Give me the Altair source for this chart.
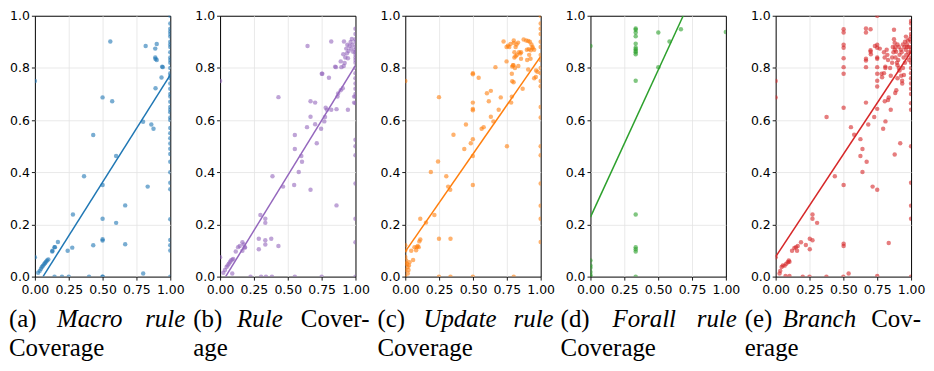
import altair as alt
import pandas as pd

colors = ["#1f77b4", "#9467bd", "#ff7f0e", "#2ca02c", "#d62728"]

# ---- panel (a) Macro rule coverage ----
a_x = [0, 0,
       0.024, 0.036, 0.045, 0.052, 0.06, 0.068, 0.075, 0.082, 0.09, 0.099,
       0.128, 0.13, 0.145, 0.148, 0.17,
       0.242, 0.276, 0.281, 0.363, 0.431, 0.431,
       0.5, 0.5, 0.5, 0.5, 0.5,
       0.557, 0.571, 0.6, 0.6, 0.667, 0.667,
       0.799, 0.8, 0.818, 0.833, 0.86, 0.876,
       0.889, 0.9, 0.889, 0.891, 0.9, 0.891,
       0.94, 0.944, 0.935,
       0.145, 0.2, 0.25, 0.4, 0.5, 0.5,
       1, 1, 1, 1, 1, 1, 1, 1, 1, 1, 1, 1, 1, 1, 1, 1, 1, 1, 1, 1,
       1, 1, 1, 1, 1, 1, 1, 1, 1, 1, 1, 1, 1, 1, 1, 1, 1, 1, 1, 1, 1, 1]
a_y = [0.75, 0.074,
       0.015, 0.022, 0.03, 0.037, 0.042, 0.047, 0.052, 0.057, 0.062, 0.066,
       0.096, 0.099, 0.113, 0.113, 0.133,
       0.099, 0.111, 0.238, 0.385, 0.543, 0.12,
       0.687, 0.351, 0.222, 0.143, 0.138,
       0.901, 0.672, 0.462, 0.206, 0.273, 0.124,
       0.594, 0.012, 0.884, 0.345, 0.583, 0.567,
       0.874, 0.892, 0.84, 0.834, 0.83, 0.722,
       0.805, 0.803, 0.763,
       0, 0, 0, 0, 0, 0,
       0, 0.1, 0.12, 0.14, 0.22, 0.335, 0.36, 0.4, 0.44, 0.47, 0.49, 0.51, 0.53, 0.55, 0.57, 0.6, 0.61, 0.63, 0.64, 0.65,
       0.67, 0.69, 0.7, 0.72, 0.74, 0.76, 0.77, 0.78, 0.8, 0.82, 0.83, 0.84, 0.86, 0.88, 0.89, 0.9, 0.92, 0.93, 0.94, 0.95, 0.97, 1.0]

# ---- panel (b) Rule coverage ----
b_x = [0, 0,
       0.024, 0.036, 0.048, 0.056, 0.065, 0.073, 0.08, 0.09, 0.097, 0.09,
       0.116, 0.133, 0.145, 0.165, 0.174, 0.184, 0.165, 0.182,
       0.286, 0.286, 0.298, 0.334, 0.334, 0.334, 0.334, 0.378, 0.387, 0.431, 0.431,
       0.465, 0.547, 0.552, 0.552, 0.581, 0.6, 0.605, 0.642, 0.646,
       0.668, 0.668, 0.668, 0.702, 0.702, 0.714, 0.746, 0.751, 0.755, 0.77, 0.775, 0.78, 0.789,
       0.804, 0.821, 0.821, 0.85, 0.855, 0.86, 0.867, 0.872, 0.891, 0.906, 0.86,
       0.891, 0.91, 0.915, 0.925, 0.932, 0.94, 0.944, 0.949, 0.956, 0.964, 0.969, 0.973,
       0.978, 0.983, 0.913, 0.896, 0.944, 0.937, 0.92, 0.99, 0.99,
       0.225, 0.303, 0.339, 0.383, 0.552, 0.75,
       1, 1, 1, 1, 1, 1, 1, 1, 1, 1, 1, 1, 1, 1, 1, 1, 1, 1, 1, 1, 1, 1, 1, 1, 1, 1]
b_y = [0.75, 0.074,
       0.015, 0.025, 0.037, 0.043, 0.049, 0.055, 0.062, 0.065, 0.068, 0.012,
       0.096, 0.113, 0.117, 0.132, 0.123, 0.113, 0.099, 0.111,
       0.145, 0.105, 0.236, 0.222, 0.206, 0.139, 0.123, 0.145, 0.385, 0.688, 0.117,
       0.345, 0.351, 0.489, 0.543, 0.401, 0.462, 0.44, 0.573, 0.884,
       0.672, 0.613, 0.333, 0.667, 0.584, 0.511, 0.567, 0.778, 0.778, 0.595, 0.612, 0.647, 0.64,
       0.762, 0.901, 0.64, 0.805, 0.803, 0.642, 0.69, 0.702, 0.714, 0.722, 0.273,
       0.825, 0.852, 0.901, 0.84, 0.874, 0.889, 0.837, 0.865, 0.884, 0.899, 0.874, 0.911,
       0.889, 0.862, 0.807, 0.803, 0.64, 0.856, 0.819, 0.69, 0.667,
       0, 0, 0, 0, 0, 0,
       0, 0.132, 0.222, 0.357, 0.465, 0.5, 0.525, 0.665, 0.69, 0.7, 0.72, 0.74, 0.76, 0.78, 0.8, 0.82, 0.83,
       0.84, 0.85, 0.86, 0.87, 0.88, 0.9, 0.91, 0.93, 0.95]

# ---- panel (c) Update rule coverage ----
c_x = [0, 0, 0, 0, 0, 0, 0,
       0.007, 0.012, 0.017, 0.019, 0.024, 0.027, 0.031,
       0.044, 0.058, 0.068, 0.08, 0.085, 0.092, 0.099, 0.104, 0.111,
       0.111, 0.153, 0.189, 0.215, 0.242, 0.249, 0.249, 0.303, 0.317, 0.332, 0.334, 0.356,
       0.436, 0.448, 0.484, 0.499, 0.499, 0.499, 0.499, 0.499, 0.499, 0.499, 0.499,
       0.542, 0.564, 0.579, 0.603, 0.617, 0.632, 0.632, 0.651, 0.666, 0.69, 0.705,
       0.726, 0.748, 0.751, 0.748, 0.758, 0.768, 0.777, 0.782, 0.787, 0.787, 0.79,
       0.79, 0.795, 0.801, 0.801, 0.806, 0.815, 0.825, 0.84, 0.85, 0.855,
       0.867, 0.874, 0.893, 0.908, 0.92, 0.932, 0.94, 0.898, 0.912, 0.927, 0.94, 0.952,
       0.9, 0.915, 0.925, 0.952, 0.964, 0.966, 0.976, 0.908, 0.806, 0.815, 0.822, 0.833,
       0.835, 0.799, 0.855, 0.8, 0.81,
       0.249, 0.334, 0.499, 0.801,
       1, 1, 1, 1, 1, 1, 1, 1, 1, 1, 1, 1, 1, 1, 1, 1, 1, 1, 1, 1]
c_y = [0.75, 0.12, 0.1, 0.075, 0.05, 0.025, 0.0,
       0.062, 0.049, 0.037, 0.012, 0.025, 0.043, 0.055,
       0.099, 0.064, 0.113, 0.101, 0.113, 0.117, 0.113, 0.135, 0.142,
       0.222, 0.207, 0.401, 0.236, 0.441, 0.688, 0.145, 0.385, 0.345, 0.333, 0.145, 0.544,
       0.489, 0.583, 0.511, 0.527, 0.667, 0.643, 0.638, 0.78, 0.776, 0.462, 0.351,
       0.762, 0.567, 0.573, 0.703, 0.672, 0.712, 0.613, 0.595, 0.803, 0.64, 0.687,
       0.901, 0.825, 0.5, 0.88, 0.885, 0.88, 0.892, 0.667, 0.69, 0.778, 0.749,
       0.805, 0.81, 0.905, 0.896, 0.84, 0.845, 0.85, 0.86, 0.855, 0.86,
       0.72, 0.909, 0.905, 0.903, 0.9, 0.89, 0.88, 0.87, 0.872, 0.868, 0.875, 0.87,
       0.83, 0.85, 0.835, 0.76, 0.765, 0.79, 0.785, 0.794, 0.86, 0.88, 0.89, 0.897,
       0.807, 0.81, 0.835, 0.745, 0.8,
       0, 0, 0, 0,
       0.133, 0.222, 0.272, 0.357, 0.465, 0.5, 0.61, 0.65, 0.73, 0.75, 0.78, 0.8, 0.83, 0.85, 0.88, 0.9, 0.93, 0.95, 0.97, 1.0]

# ---- panel (d) Forall rule coverage ----
d_x = [0, 0, 0, 0, 0, 0, 0,
       0.334, 0.334, 0.334, 0.334, 0.334, 0.334, 0.334, 0.334, 0.334, 0.334,
       0.334, 0.334, 0.334, 0.334, 0.334, 0.334,
       0.501, 0.501, 0.584, 0.668, 1.0]
d_y = [0.884, 0.062, 0.043, 0.034, 0.018, 0.006, 0.0,
       0.951, 0.946, 0.936, 0.921, 0.893, 0.877, 0.872, 0.865, 0.86, 0.852,
       0.751, 0.238, 0.113, 0.105, 0.096, 0.0,
       0.936, 0.803, 0.901, 0.948, 0.938]

# ---- panel (e) Branch coverage ----
e_x = [0, 0, 0,
       0.029, 0.034, 0.044, 0.053, 0.066, 0.078, 0.09, 0.097, 0.102, 0.073, 0.102,
       0.121, 0.138, 0.15, 0.163, 0.158, 0.187, 0.223, 0.252, 0.272, 0.252, 0.272, 0.272, 0.306,
       0.376, 0.437, 0.502, 0.502, 0.502, 0.502, 0.502, 0.502, 0.502, 0.502, 0.502, 0.502, 0.502,
       0.539, 0.556, 0.58, 0.626, 0.626, 0.641, 0.641,
       0.667, 0.667, 0.667, 0.667, 0.667, 0.667, 0.672, 0.684, 0.701, 0.701, 0.701, 0.703,
       0.716, 0.728, 0.733, 0.75, 0.75, 0.75, 0.75, 0.75, 0.75, 0.75, 0.75, 0.75, 0.75, 0.75, 0.75,
       0.769, 0.782, 0.786, 0.794, 0.8, 0.805, 0.81, 0.806, 0.811, 0.82, 0.825, 0.83, 0.835, 0.835,
       0.85, 0.874, 0.874, 0.879, 0.883, 0.89, 0.879, 0.883, 0.891, 0.895, 0.9, 0.905, 0.91,
       0.92, 0.927, 0.934, 0.947, 0.95, 0.955, 0.962, 0.97, 0.975, 0.982, 0.99,
       0.86, 0.865, 0.87, 0.88, 0.885, 0.9, 0.91, 0.915, 0.925, 0.93, 0.94, 0.945, 0.96, 0.965, 0.97,
       0.8, 0.81, 0.83, 0.845, 0.85, 0.86, 0.935, 0.955, 0.98, 0.985, 0.915, 0.9, 0.94,
       0.2, 0.25, 0.375, 0.5,
       1, 1, 1, 1, 1, 1, 1, 1, 1, 1, 1, 1, 1, 1, 1, 1, 1, 1, 1, 1, 1, 1, 1, 1]
e_y = [0.75, 0.687, 0.074,
       0.012, 0.022, 0.037, 0.043, 0.042, 0.049, 0.055, 0.062, 0.057, 0.002, 0.002,
       0.099, 0.11, 0.113, 0.117, 0.099, 0.132, 0.121, 0.145, 0.139, 0.105, 0.238, 0.222, 0.206,
       0.612, 0.385, 0.948, 0.936, 0.889, 0.877, 0.837, 0.803, 0.778, 0.647, 0.351, 0.126, 0.117,
       0.012, 0.573, 0.544, 0.527, 0.462, 0.489, 0.401,
       0.951, 0.936, 0.835, 0.828, 0.803, 0.667, 0.44, 0.583, 0.948, 0.868, 0.862, 0.852,
       0.345, 0.612, 0.884, 1.0, 0.889, 0.877, 0.84, 0.835, 0.803, 0.778, 0.751, 0.729, 0.643, 0.333, 0.002,
       0.874, 0.778, 0.764, 0.567, 0.86, 0.84, 0.805, 0.672, 0.595, 0.87, 0.85, 0.677, 0.687, 0.129,
       0.64, 0.946, 0.91, 0.896, 0.88, 0.862, 0.468, 0.704, 0.714, 0.82, 0.81, 0.83, 0.8,
       0.511, 0.77, 0.751, 0.773, 0.88, 0.9, 0.92, 0.89, 0.905, 0.88, 0.91,
       0.84, 0.88, 0.86, 0.87, 0.84, 0.89, 0.88, 0.85, 0.87, 0.86, 0.89, 0.84, 0.87, 0.85, 0.88,
       0.78, 0.8, 0.83, 0.8, 0.77, 0.82, 0.74, 0.82, 0.86, 0.83, 0.79, 0.76, 0.8,
       0, 0, 0, 0,
       0, 0.222, 0.272, 0.36, 0.5, 0.64, 0.665, 0.7, 0.72, 0.74, 0.76, 0.78, 0.8, 0.82, 0.84, 0.86, 0.87, 0.88, 0.9,
       0.92, 0.93, 0.95, 0.97, 0.98]

xs_all = [a_x, b_x, c_x, d_x, e_x]
ys_all = [a_y, b_y, c_y, d_y, e_y]

# regression line endpoints
reg_x = [[0.06, 1.0], [0.041, 1.0], [0.0, 1.0], [0.0, 0.685], [0.0, 1.0]]
reg_y = [[0.0, 0.773], [0.0, 0.81], [0.096, 0.844], [0.228, 1.0], [0.076, 0.862]]

cap_line1 = [["(a)", "Macro", "rule"], ["(b)", "Rule", "Cover-"],
             ["(c)", "Update", "rule"], ["(d)", "Forall", "rule"],
             ["(e)", "Branch", "Cov-"]]
cap_italic = [[False, True, True], [False, True, False], [False, True, True],
              [False, True, True], [False, True, False]]
cap_line2 = ["Coverage", "age", "Coverage", "Coverage", "erage"]

x_ticks = [0, 0.25, 0.5, 0.75, 1.0]
y_ticks = [0, 0.2, 0.4, 0.6, 0.8, 1.0]

# ---- layout (pixels) ----
W, H = 136, 262
cap_dx = [-26, -27, -28, -30, -31]
cap_w = 177
mid_c = [81, 67, 83, 84, 75]
cap_fs = 25
cap_font = "Liberation Serif"
line1_y = H + 51
line2_y = H + 80

grid_color = {"condition": {"test": "datum.value === 0 || datum.value === 1",
                            "value": "transparent"},
              "value": "#e3e3e3"}


def caption(word, xpos, ypos, align, italic):
    return alt.Chart(pd.DataFrame({"t": [word]})).mark_text(
        font=cap_font, fontSize=cap_fs,
        fontStyle="italic" if italic else "normal",
        align=align, baseline="alphabetic", color="black"
    ).encode(x=alt.value(xpos), y=alt.value(ypos), text="t:N")


def panel(i):
    df = pd.DataFrame({"x": xs_all[i], "y": ys_all[i]})
    xenc = alt.X("x:Q", scale=alt.Scale(domain=[0, 1], nice=False, zero=False),
                 axis=alt.Axis(values=x_ticks, format=".2f", title=None,
                               gridColor=grid_color, labelPadding=3,
                               labelFlush=False, labelOverlap=False))
    yenc = alt.Y("y:Q", scale=alt.Scale(domain=[0, 1], nice=False, zero=False),
                 axis=alt.Axis(values=y_ticks, format=".1f", title=None,
                               gridColor=grid_color, labelPadding=2,
                               labelFlush=False, labelOverlap=False))
    pts = alt.Chart(df).mark_circle(size=20, opacity=0.6, color=colors[i],
                                    clip=True).encode(x=xenc, y=yenc)
    ldf = pd.DataFrame({"x": reg_x[i], "y": reg_y[i]})
    ln = alt.Chart(ldf).mark_line(color=colors[i], strokeWidth=1.5,
                                  clip=True).encode(x=xenc, y=yenc)
    layers = [pts, ln]
    offs = [0, mid_c[i], cap_w]
    aligns = ["left", "center", "right"]
    for j, w in enumerate(cap_line1[i]):
        layers.append(caption(w, cap_dx[i] + offs[j], line1_y, aligns[j],
                              cap_italic[i][j]))
    layers.append(caption(cap_line2[i], cap_dx[i], line2_y, "left", False))
    return alt.layer(*layers).properties(width=W, height=H)


chart = alt.hconcat(*[panel(i) for i in range(5)], spacing=50,
                    bounds="flush").properties(padding=0).configure_view(
    stroke="black", strokeWidth=1
).configure_axis(
    labelFont="DejaVu Sans", labelFontSize=12.5, labelColor="black",
    tickColor="black", tickSize=3.5, tickWidth=0.9, domain=False,
    gridWidth=0.8
)

chart.save("out.html", embed_options={"renderer": "svg", "actions": False})
